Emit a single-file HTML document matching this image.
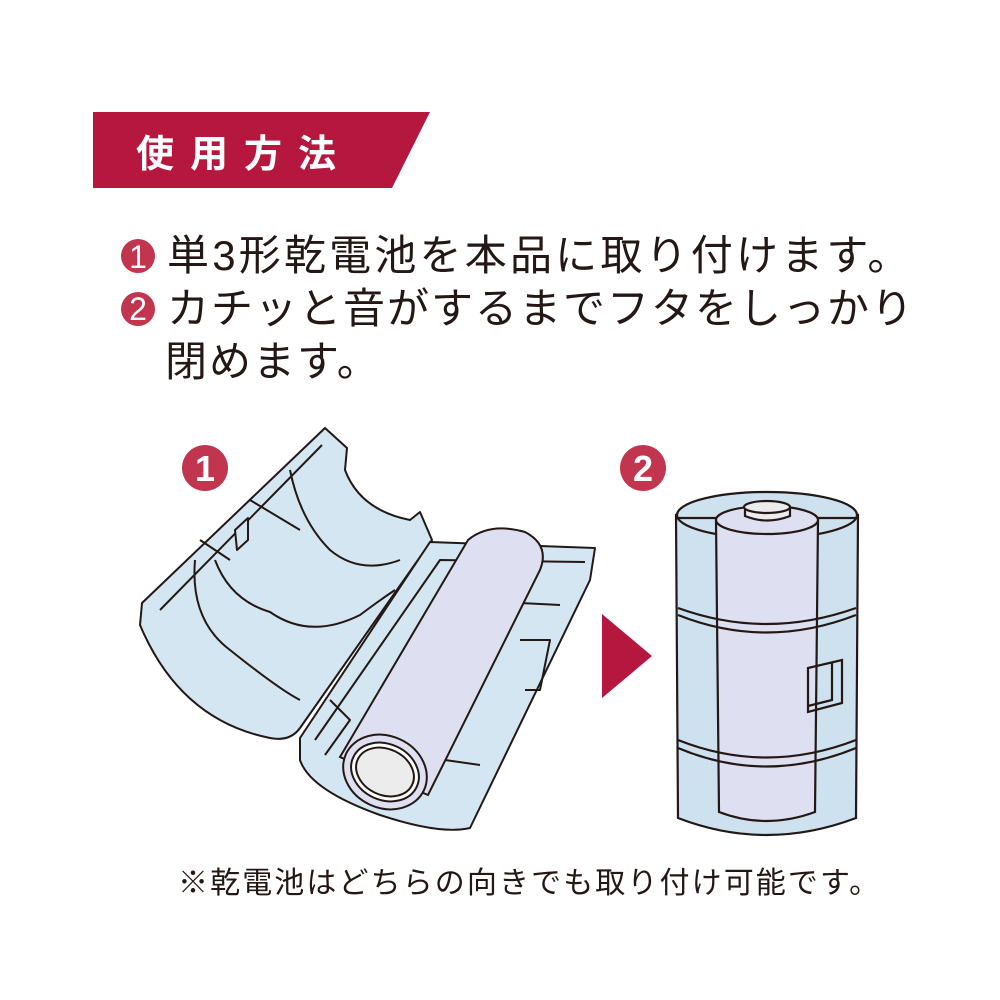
<!DOCTYPE html>
<html><head><meta charset="utf-8"><style>
html,body{margin:0;padding:0;background:#fff;}
body{width:1000px;height:1000px;position:relative;overflow:hidden;font-family:"Liberation Sans","Noto Sans CJK JP",sans-serif;}
.t{position:absolute;white-space:nowrap;color:#231815;}
</style></head><body>
<svg width="1000" height="1000" style="position:absolute;left:0;top:0">
<polygon points="93,112 430,112 392,188 93,188" fill="#b5173e"/>
<text x="136" y="167" font-size="38" fill="#fff" font-family="Noto Sans CJK JP, sans-serif" font-weight="bold" letter-spacing="16">使用方法</text>
<circle cx="138" cy="256" r="17" fill="#c1354f"/>
<text x="138" y="268" font-size="32" fill="#fff" text-anchor="middle" font-family="Liberation Sans, sans-serif">1</text>
<circle cx="138" cy="309" r="17" fill="#c1354f"/>
<text x="138" y="320" font-size="32" fill="#fff" text-anchor="middle" font-family="Liberation Sans, sans-serif">2</text>
<circle cx="205" cy="468" r="23" fill="#c1354f"/>
<text x="205" y="481" font-size="36" font-weight="bold" fill="#fff" text-anchor="middle" font-family="Liberation Sans, sans-serif">1</text>
<circle cx="643" cy="468" r="23" fill="#c1354f"/>
<text x="643" y="481" font-size="36" font-weight="bold" fill="#fff" text-anchor="middle" font-family="Liberation Sans, sans-serif">2</text>
<polygon points="602,614 652,656 602,698" fill="#b5173e"/>
<g stroke="#231815" stroke-width="2" fill="#d4e6f2" stroke-linejoin="round">
<path d="M142,603 L325,428 L347,448 L345,470 Q360,510 410,520 L420,512 L432,540 L300,728 Q290,742 270,738 Q180,720 140,625 Z"/>
<path d="M160,610 L322,445 M215,560 Q230,600 270,612 Q310,640 360,615 Q380,600 395,590 M195,560 Q190,620 230,650 Q280,690 300,700 M290,470 Q300,520 330,550 Q360,575 400,560 M250,500 L300,530 M200,540 L230,560" fill="none"/>
<path d="M235,530 L248,518 L248,540 L237,550 Z"/>
<path d="M300,738 L430,542 L595,548 L590,580 L470,828 Q440,835 380,815 Q310,790 300,760 Z"/>
<path d="M315,740 L440,560 L585,562 M460,600 L560,605 M520,640 L550,640 L540,690 L525,690 M420,700 L470,705 M445,760 L480,765 M330,700 L350,720 L325,755" fill="none"/>
</g>
<g stroke="#231815" stroke-width="2">
<path d="M340,757 L468,540 Q490,522 525,532 Q550,545 540,570 L428,795 Z" fill="#dedff0"/>
<ellipse cx="385" cy="772" rx="43" ry="36" transform="rotate(25 385 772)" fill="#dedff0"/>
<ellipse cx="385" cy="772" rx="35" ry="28" transform="rotate(25 385 772)" fill="#fff"/>
<ellipse cx="385" cy="772" rx="30" ry="23" transform="rotate(25 385 772)" fill="#ececec"/>
</g>
<g stroke="#231815" stroke-width="2.2">
<path d="M676,515 L678,818 Q766,852 856,818 L858,515 Z" fill="#cde2ee"/>
<ellipse cx="767" cy="515" rx="90" ry="23" fill="#cde2ee"/>
<path d="M716,520 L719,812 Q766,830 815,812 L818,520 Z" fill="#dedff0"/>
<ellipse cx="767" cy="520" rx="51" ry="14" fill="#dedff0"/>
<path d="M745,507 L745,516 Q767,525 790,516 L790,507" fill="#ececec"/>
<ellipse cx="767" cy="507" rx="23" ry="6" fill="#ececec"/>
<path d="M676,518 L716,518 M818,518 L858,518" fill="none"/>
<path d="M678,608 Q766,640 856,608 M678,615 Q766,650 856,615 M678,740 Q766,775 856,740 M678,748 Q766,785 856,748" fill="none"/>
<path d="M808,668 L842,660 L842,703 L808,712 Z" fill="none"/>
<path d="M832,663 L832,700 L808,706" fill="none"/>
</g>
</svg>
<div class="t" style="left:167px;top:230px;font-size:42px;line-height:52px;letter-spacing:3.2px">単3形乾電池を本品に取り付けます。</div>
<div class="t" style="left:167px;top:283px;font-size:42px;line-height:52px;letter-spacing:2px">カチッと音がするまでフタをしっかり</div>
<div class="t" style="left:165px;top:336px;font-size:42px;line-height:52px;letter-spacing:2px">閉めます。</div>
<div class="t" style="left:178px;top:866px;font-size:30px;line-height:36px;letter-spacing:2.1px">※乾電池はどちらの向きでも取り付け可能です。</div>
</body></html>
